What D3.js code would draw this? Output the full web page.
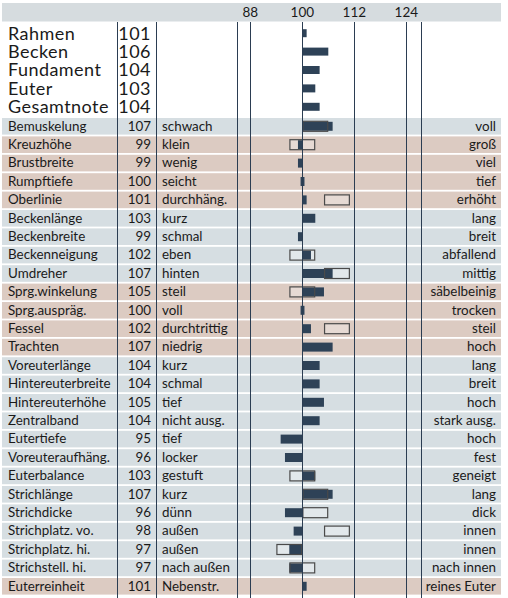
<!DOCTYPE html>
<head>
<meta charset="utf-8">
<style>
body { margin: 0; background: #fff; }
text { font-family: Lato, "Open Sans", sans-serif; fill: #1a1a1a; }
</style>
</head>
<body>
<script src="https://cdn.jsdelivr.net/npm/d3@7/dist/d3.min.js"></script>
<script>

// summary traits (big type at the top)
var topNames = ["Rahmen", "Becken", "Fundament", "Euter", "Gesamtnote"];
var topValues = [101, 106, 104, 103, 104];

// linear traits
var traitNames = ["Bemuskelung", "Kreuzhöhe", "Brustbreite", "Rumpftiefe", "Oberlinie",
  "Beckenlänge", "Beckenbreite", "Beckenneigung", "Umdreher", "Sprg.winkelung",
  "Sprg.auspräg.", "Fessel", "Trachten", "Voreuterlänge", "Hintereuterbreite",
  "Hintereuterhöhe", "Zentralband", "Eutertiefe", "Voreuteraufhäng.", "Euterbalance",
  "Strichlänge", "Strichdicke", "Strichplatz. vo.", "Strichplatz. hi.", "Strichstell. hi.",
  "Euterreinheit"];
var traitValues = [107, 99, 99, 100, 101, 103, 99, 102, 107, 105, 100, 102, 107,
  104, 104, 105, 104, 95, 96, 103, 107, 96, 98, 97, 97, 101];
var lowLabels = ["schwach", "klein", "wenig", "seicht", "durchhäng.", "kurz", "schmal",
  "eben", "hinten", "steil", "voll", "durchtrittig", "niedrig", "kurz", "schmal", "tief",
  "nicht ausg.", "tief", "locker", "gestuft", "kurz", "dünn", "außen", "außen",
  "nach außen", "Nebenstr."];
var highLabels = ["voll", "groß", "viel", "tief", "erhöht", "lang", "breit", "abfallend",
  "mittig", "säbelbeinig", "trocken", "steil", "hoch", "lang", "breit", "hoch",
  "stark ausg.", "hoch", "fest", "geneigt", "lang", "dick", "innen", "innen",
  "nach innen", "reines Euter"];
// band group: "k" = blue-grey band, "f" = brown band
var traitGroups = ["k", "f", "f", "f", "f", "k", "k", "k", "k", "f", "f", "f", "f",
  "k", "k", "k", "k", "k", "k", "k", "k", "k", "k", "k", "k", "f"];
// outlined range boxes (null = none)
var boxFrom = [100, 97, null, null, 105, null, null, 97, 105, 97, null, 105, null,
  null, null, null, null, null, null, 97, 100, 100, 105, 94, 97, null];
var boxTo = [106, 103, null, null, 111, null, null, 103, 111, 103, null, 111, null,
  null, null, null, null, null, null, 103, 106, 106, 111, 100, 103, null];

var ticks = [88, 100, 112, 124];

var W = 508, H = 598;
var bandColor = { k: "#d6dee2", f: "#dccbc2" };
var barColor = "#2e4257";
var lineColor = "#2b3d52";

var svg = d3.select("body").append("svg")
    .attr("width", W)
    .attr("height", H);

// scale for the bars
var x = d3.scaleLinear().domain([88, 124]).range([250.3, 406.3]);

// row layout
var rowTop = 118, rowStep = 18.4, bandH = 16.6;
var topStart = 24.2;

// header band
svg.append("rect")
    .attr("x", 2).attr("y", 3).attr("width", 499).attr("height", 18.5)
    .attr("fill", "#d6dcdf");

svg.selectAll(".tick-label")
    .data(ticks)
  .enter().append("text")
    .attr("x", function(d) { return x(d); })
    .attr("y", 17)
    .attr("text-anchor", "middle")
    .style("font-size", "13.5px")
    .text(function(d) { return d; });

// summary rows
var topG = svg.append("g");
topNames.forEach(function(n, i) {
  var cy = topStart + rowStep * i + 9;
  topG.append("text")
      .attr("x", 8).attr("y", cy + 6.3)
      .style("font-size", "18px")
      .style("letter-spacing", "0.45px")
      .text(n);
  topG.append("text")
      .attr("x", 151).attr("y", cy + 6.3)
      .attr("text-anchor", "end")
      .style("font-size", "18px")
      .style("letter-spacing", "0.45px")
      .text(topValues[i]);
  topG.append("rect")
      .attr("x", x(Math.min(topValues[i], 100)))
      .attr("y", cy - 4)
      .attr("width", Math.abs(x(topValues[i]) - x(100)))
      .attr("height", 8)
      .attr("fill", barColor);
});

// linear trait rows
var rows = svg.selectAll(".row")
    .data(traitNames)
  .enter().append("g")
    .attr("class", "row")
    .attr("transform", function(d, i) { return "translate(0," + (rowTop + rowStep * i) + ")"; });

rows.append("rect")
    .attr("x", 2).attr("y", 0)
    .attr("width", 499).attr("height", bandH)
    .attr("fill", function(d, i) { return bandColor[traitGroups[i]]; });

rows.append("text")
    .attr("x", 8).attr("y", 12.6)
    .style("font-size", "13.4px")
    .text(function(d) { return d; });

rows.append("text")
    .attr("x", 151).attr("y", 12.6)
    .attr("text-anchor", "end")
    .style("font-size", "13.4px")
    .text(function(d, i) { return traitValues[i]; });

rows.append("text")
    .attr("x", 162).attr("y", 12.6)
    .style("font-size", "13.4px")
    .text(function(d, i) { return lowLabels[i]; });

rows.append("text")
    .attr("x", 496).attr("y", 12.6)
    .attr("text-anchor", "end")
    .style("font-size", "13.4px")
    .text(function(d, i) { return highLabels[i]; });

// box fill (under the bars)
rows.filter(function(d, i) { return boxFrom[i] !== null; })
  .append("rect")
    .attr("x", function(d) { var i = traitNames.indexOf(d); return x(boxFrom[i]); })
    .attr("y", bandH / 2 - 5)
    .attr("width", function(d) { var i = traitNames.indexOf(d); return x(boxTo[i]) - x(boxFrom[i]); })
    .attr("height", 10)
    .attr("fill", "#ffffff")
    .attr("fill-opacity", 0.3);

// bars from the 100 line
rows.append("rect")
    .attr("x", function(d, i) {
      var v = traitValues[i];
      return v === 100 ? x(99.6) : x(Math.min(v, 100));
    })
    .attr("y", bandH / 2 - 4.5)
    .attr("width", function(d, i) {
      var v = traitValues[i];
      return v === 100 ? x(100.5) - x(99.6) : Math.abs(x(v) - x(100));
    })
    .attr("height", 9)
    .attr("fill", barColor);

// box outline (over the bars)
rows.filter(function(d, i) { return boxFrom[i] !== null; })
  .append("rect")
    .attr("x", function(d) { var i = traitNames.indexOf(d); return x(boxFrom[i]) + 0.6; })
    .attr("y", bandH / 2 - 5)
    .attr("width", function(d) { var i = traitNames.indexOf(d); return x(boxTo[i]) - x(boxFrom[i]) - 1.2; })
    .attr("height", 10)
    .attr("fill", "none")
    .attr("stroke", "#4a4a4a")
    .attr("stroke-width", 1.2);

// vertical rules
var rules = [116.7, 156, x(85), x(127.33)].concat(ticks.map(function(t) { return x(t); }));
svg.selectAll(".rule")
    .data(rules)
  .enter().append("line")
    .attr("x1", function(d) { return Math.round(d) + 0.5; })
    .attr("x2", function(d) { return Math.round(d) + 0.5; })
    .attr("y1", 22)
    .attr("y2", H)
    .attr("stroke", lineColor)
    .attr("stroke-width", 1);

</script>
</body>
